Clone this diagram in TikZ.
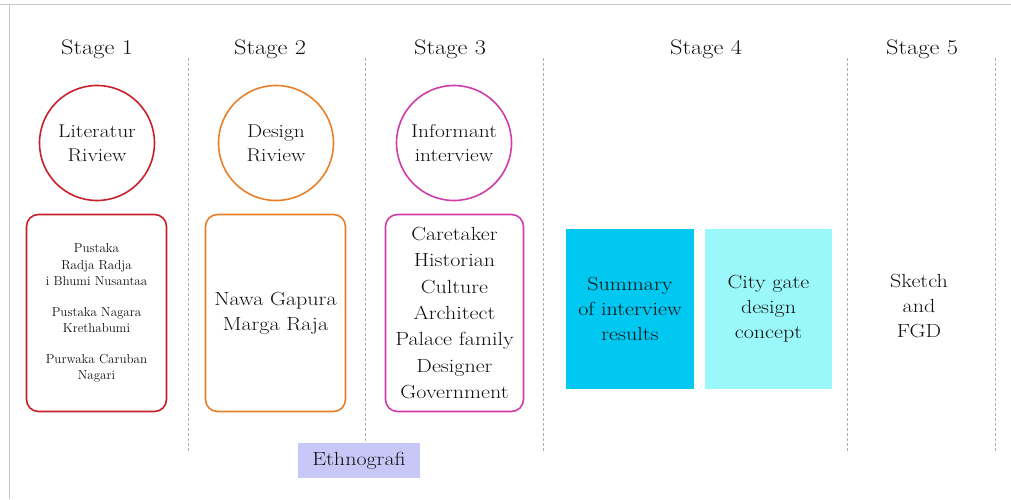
\documentclass[tikz,border=0pt]{standalone}
\usepackage{graphicx}
\newcommand\hs[1]{\scalebox{1.16}[1]{#1}}
\definecolor{cred}{HTML}{C8202A}
\definecolor{corange}{HTML}{E8802A}
\definecolor{cpink}{HTML}{D03CA8}
\definecolor{ccyan}{HTML}{00C8F0}
\definecolor{clcyan}{HTML}{9AF8FA}
\definecolor{clav}{HTML}{C8C8F8}
\definecolor{cframe}{HTML}{C8C8C8}
\definecolor{cdash}{HTML}{B0B0B0}
\definecolor{ctext}{HTML}{111111}
\begin{document}
\begin{tikzpicture}[x=1pt,y=-1pt,
  stagelabel/.style={font=\fontsize{21}{24}\selectfont, text=ctext},
  sep/.style={draw=cdash, dashed, dash pattern=on 3pt off 2pt, line width=0.6pt},
  stagecircle/.style={circle, line width=1.6pt, minimum size=115pt, inner sep=0pt, align=center, text=ctext, font=\fontsize{18.5}{24}\selectfont},
  listbox/.style={rounded corners=12pt, line width=1.6pt, inner sep=0pt, align=center, text=ctext},
  fillbox/.style={inner sep=0pt, align=center, text=ctext, font=\fontsize{19}{25}\selectfont}
]
\useasboundingbox (0,0) rectangle (1011,499);
\fill[white] (0,0) rectangle (1011,499);
\draw[cframe, line width=1pt] (0,4) -- (1011,4);
\draw[cframe, line width=1pt] (9,4) -- (9,499);

% stage labels
\node[stagelabel] (s1) at (97,49) {\hs{Stage 1}};
\node[stagelabel] (s2) at (270,49) {\hs{Stage 2}};
\node[stagelabel] (s3) at (450,49) {\hs{Stage 3}};
\node[stagelabel] (s4) at (706,49) {\hs{Stage 4}};
\node[stagelabel] (s5) at (922,49) {\hs{Stage 5}};

% separators
\foreach \xx/\nm in {188/a,365/b,543/c,847/d,995/e}{
  \coordinate (t\nm) at (\xx,58);
  \coordinate (b\nm) at (\xx,453);
  \draw[sep] (t\nm) -- (b\nm);
}

% circles
\node[stagecircle, draw=cred] (c1) at (97,143) {\hs{Literatur}\\\hs{Riview}};
\node[stagecircle, draw=corange] (c2) at (276,143) {\hs{Design}\\\hs{Riview}};
\node[stagecircle, draw=cpink] (c3) at (454,143) {\hs{Informant}\\\hs{interview}};

% list boxes
\node[listbox, draw=cred, minimum width=140pt, minimum height=197pt, font=\fontsize{13}{16.5}\selectfont] (l1) at (96.5,313)
  {Pustaka\\Radja Radja\\i Bhumi Nusantaa\\[14pt]Pustaka Nagara\\Krethabumi\\[14pt]Purwaka Caruban\\Nagari};
\node[listbox, draw=corange, minimum width=140pt, minimum height=197pt, font=\fontsize{19}{25}\selectfont] (l2) at (275.5,313)
  {\hs{Nawa Gapura}\\\hs{Marga Raja}};
\node[listbox, draw=cpink, minimum width=138pt, minimum height=197pt, font=\fontsize{19}{26.3}\selectfont] (l3) at (454.5,313)
  {\hs{Caretaker}\\\hs{Historian}\\\hs{Culture}\\\hs{Architect}\\\hs{Palace family}\\\hs{Designer}\\\hs{Government}};

% stage 4 boxes
\node[fillbox, fill=ccyan, minimum width=128pt, minimum height=160pt] (sum) at (630,309)
  {\hs{Summary}\\\hs{of interview}\\\hs{results}};
\node[fillbox, fill=clcyan, minimum width=127pt, minimum height=160pt] (city) at (768.5,309)
  {\hs{City gate}\\\hs{design}\\\hs{concept}};

% stage 5
\node[fillbox] (sk) at (919,306) {\hs{Sketch}\\\hs{and}\\\hs{FGD}};

% ethnografi
\node[fill=clav, minimum width=122pt, minimum height=35pt, inner sep=0pt, text=ctext, font=\fontsize{19}{22}\selectfont] (eth) at (359,460.5) {\hs{Ethnografi}};
\end{tikzpicture}
\end{document}
